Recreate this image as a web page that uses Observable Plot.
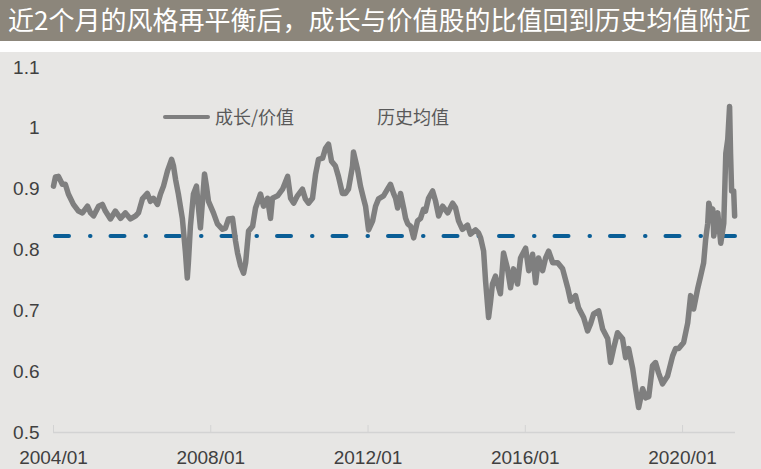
<!DOCTYPE html>
<html><head><meta charset="utf-8">
<script src="https://cdn.jsdelivr.net/npm/d3@7"></script>
<script src="https://cdn.jsdelivr.net/npm/@observablehq/plot@0.6"></script>
<style>
html,body{margin:0;padding:0;background:#fff;}
#wrap{position:relative;width:761px;height:469px;overflow:hidden;background:#fff;}
#title{height:41px;background:#8c867b;color:#fff;font-family:"Noto Sans CJK SC";font-size:26px;line-height:38px;padding-left:8px;white-space:nowrap;box-sizing:border-box;}
#gap{height:11px;background:#fff;}
#chart{background:#e7e6e4;height:417px;}
#chart svg{display:block;}
.lg{position:absolute;font-family:"Noto Sans CJK SC";font-size:18px;line-height:20px;color:#595959;white-space:nowrap;}
.sw{position:absolute;left:163px;top:115px;width:47px;height:4px;background:#7f7f7f;border-radius:2px;}
</style></head>
<body>
<div id="wrap">
  <div id="title">近2个月的风格再平衡后，成长与价值股的比值回到历史均值附近</div>
  <div id="gap"></div>
  <div id="chart"></div>
  <div class="sw"></div>
  <div class="lg" style="left:215px;top:106px;">成长/价值</div>
  <div class="lg" style="left:377px;top:106px;">历史均值</div>
</div>
<script>
const dates = ["2004-01-01","2004-01-19","2004-02-16","2004-03-23","2004-04-20","2004-05-18","2004-07-04","2004-08-20","2004-09-26","2004-11-12","2004-12-10","2005-01-07","2005-02-23","2005-03-30","2005-04-27","2005-06-13","2005-07-29","2005-09-15","2005-10-30","2005-12-16","2006-02-02","2006-02-28","2006-04-06","2006-05-22","2006-06-19","2006-07-17","2006-08-24","2006-09-21","2006-10-19","2006-11-25","2007-01-02","2007-01-20","2007-02-08","2007-03-06","2007-04-12","2007-05-10","2007-05-28","2007-06-07","2007-06-26","2007-07-24","2007-08-21","2007-09-09","2007-09-27","2007-10-16","2007-11-04","2007-11-22","2007-12-11","2008-01-26","2008-03-03","2008-04-19","2008-05-16","2008-06-14","2008-07-21","2008-08-18","2008-09-06","2008-10-04","2008-11-01","2008-11-20","2008-12-17","2009-01-24","2009-02-20","2009-04-07","2009-05-05","2009-06-11","2009-07-09","2009-07-27","2009-09-13","2009-10-29","2009-12-15","2010-01-12","2010-02-09","2010-03-16","2010-05-02","2010-05-29","2010-06-27","2010-08-03","2010-09-01","2010-09-28","2010-11-05","2010-12-02","2010-12-30","2011-01-27","2011-03-04","2011-04-01","2011-05-08","2011-06-05","2011-07-03","2011-08-10","2011-08-19","2011-09-25","2011-10-23","2011-11-20","2011-12-09","2012-01-06","2012-02-13","2012-03-11","2012-04-08","2012-05-24","2012-06-30","2012-07-28","2012-08-25","2012-09-13","2012-10-02","2012-10-29","2012-11-27","2012-12-15","2013-01-04","2013-02-01","2013-02-28","2013-04-05","2013-05-03","2013-05-30","2013-06-18","2013-07-16","2013-08-23","2013-09-20","2013-10-18","2013-11-24","2014-01-10","2014-02-25","2014-03-23","2014-04-21","2014-05-27","2014-07-13","2014-08-10","2014-09-26","2014-10-24","2014-11-12","2014-12-10","2014-12-28","2015-01-25","2015-02-13","2015-03-02","2015-03-30","2015-05-15","2015-06-13","2015-07-19","2015-08-17","2015-09-14","2015-10-21","2015-11-18","2016-01-04","2016-02-02","2016-03-09","2016-04-06","2016-05-03","2016-06-10","2016-07-08","2016-08-05","2016-09-12","2016-10-28","2016-12-13","2017-01-29","2017-02-26","2017-04-12","2017-05-10","2017-06-26","2017-08-02","2017-08-30","2017-09-27","2017-11-13","2017-12-20","2018-02-05","2018-03-03","2018-03-31","2018-05-07","2018-06-23","2018-07-21","2018-08-18","2018-09-25","2018-10-22","2018-11-19","2018-12-26","2019-01-24","2019-02-21","2019-03-28","2019-04-25","2019-05-23","2019-06-29","2019-08-15","2019-10-01","2019-10-29","2019-11-26","2020-01-11","2020-02-18","2020-03-16","2020-04-13","2020-05-20","2020-06-17","2020-07-15","2020-08-03","2020-08-22","2020-09-01","2020-09-19","2020-10-08","2020-10-17","2020-11-23","2020-12-21","2021-01-18","2021-02-06","2021-02-24","2021-03-13","2021-03-22","2021-04-01","2021-04-20","2021-04-29"];
const ratio = [0.905,0.920,0.921,0.908,0.908,0.892,0.875,0.864,0.861,0.872,0.861,0.856,0.872,0.875,0.864,0.851,0.864,0.852,0.861,0.851,0.856,0.861,0.884,0.893,0.880,0.885,0.875,0.892,0.905,0.930,0.949,0.938,0.916,0.892,0.852,0.798,0.754,0.779,0.839,0.892,0.905,0.869,0.836,0.880,0.925,0.905,0.880,0.861,0.843,0.834,0.836,0.851,0.852,0.815,0.795,0.774,0.762,0.779,0.831,0.839,0.869,0.892,0.872,0.885,0.852,0.885,0.889,0.900,0.921,0.885,0.877,0.889,0.900,0.884,0.877,0.885,0.925,0.949,0.951,0.967,0.974,0.946,0.938,0.921,0.893,0.893,0.900,0.938,0.961,0.933,0.905,0.885,0.872,0.833,0.848,0.872,0.884,0.889,0.900,0.908,0.893,0.885,0.869,0.893,0.869,0.852,0.843,0.839,0.820,0.848,0.852,0.867,0.864,0.885,0.897,0.880,0.856,0.872,0.861,0.877,0.870,0.848,0.834,0.841,0.826,0.833,0.828,0.820,0.798,0.749,0.689,0.716,0.744,0.757,0.728,0.795,0.770,0.738,0.769,0.744,0.787,0.803,0.766,0.793,0.746,0.787,0.766,0.787,0.798,0.779,0.779,0.769,0.738,0.716,0.725,0.705,0.689,0.667,0.679,0.695,0.700,0.670,0.654,0.615,0.638,0.664,0.654,0.623,0.638,0.605,0.572,0.541,0.572,0.557,0.559,0.610,0.615,0.598,0.580,0.593,0.626,0.638,0.638,0.648,0.680,0.725,0.703,0.736,0.757,0.779,0.818,0.844,0.877,0.864,0.867,0.823,0.861,0.811,0.844,0.959,0.982,1.036,0.959,0.897,0.897,0.856];
const historicalMean = 0.823;
const xTickLabels = ["2004/01","2008/01","2012/01","2016/01","2020/01"];
const yTicks = [0.5,0.6,0.7,0.8,0.9,1.0,1.1];
const yTickLabels = ["0.5","0.6","0.7","0.8","0.9","1","1.1"];
const xDomain = ["2004-01-01","2021-05-07"];

const parse = d3.utcParse("%Y-%m-%d");
const series = dates.map((d, i) => ({date: parse(d), value: ratio[i]}));
const xTicks = xTickLabels.map(s => d3.utcParse("%Y/%m")(s));

const chart = Plot.plot({
  width: 761,
  height: 417,
  marginLeft: 53,
  marginRight: 26,
  marginTop: 15,
  marginBottom: 37,
  style: {background: "#e7e6e4", fontFamily: "'Liberation Sans', Arial, sans-serif", fontSize: "19px", color: "#404040", overflow: "visible"},
  x: {type: "utc", domain: xDomain.map(parse)},
  y: {domain: [0.5, 1.1]},
  marks: [
    Plot.ruleY([0.5], {stroke: "#d3d3d3", strokeWidth: 1.6}),
    Plot.axisX({ticks: xTicks, tickFormat: (d, i) => xTickLabels[i], tickSize: -7, tickPadding: 25, stroke: "#d3d3d3", fill: "#404040", label: null}),
    Plot.axisY({ticks: yTicks, tickFormat: (d, i) => yTickLabels[i], tickSize: 0, tickPadding: 14, fill: "#404040", label: null}),
    Plot.ruleY([historicalMean], {stroke: "#0a5e96", strokeWidth: 4, strokeLinecap: "round", strokeDasharray: "14,21,0.5,20", strokeDashoffset: -2}),
    Plot.line(series, {x: "date", y: "value", stroke: "#7f7f7f", strokeWidth: 5.5, strokeLinejoin: "round", strokeLinecap: "round"})
  ]
});
document.getElementById("chart").appendChild(chart);
</script>
</body></html>
